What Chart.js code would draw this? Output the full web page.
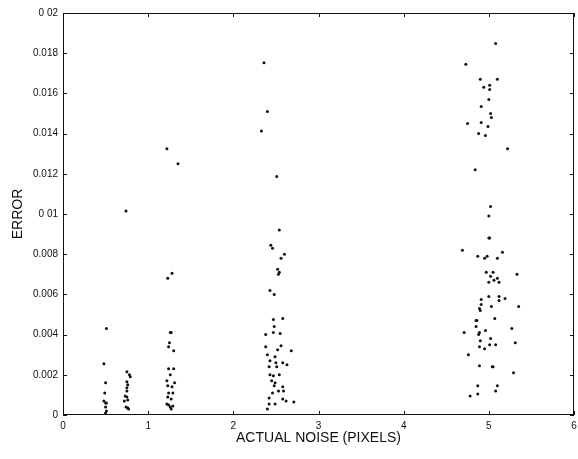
<!DOCTYPE html>
<html>
<head>
<meta charset="utf-8">
<script src="https://cdn.jsdelivr.net/npm/chart.js@4/dist/chart.umd.min.js"></script>
<style>
  body { margin: 0; background: #fff; }
</style>
</head>
<body>
<canvas id="noiseChart" width="578" height="459"></canvas>
<script>
// data, one group per noise level
const noise05X = [0.51, 0.48, 0.50, 0.49, 0.48, 0.50, 0.51, 0.50, 0.51, 0.50];
const noise05Y = [0.0043, 0.00255, 0.0016, 0.0011, 0.0007, 0.0006, 0.0006, 0.0004, 0.0002, 0.0001];

const noise075X = [0.74, 0.75, 0.78, 0.79, 0.75, 0.76, 0.75, 0.75, 0.73, 0.75, 0.76, 0.72, 0.74, 0.76, 0.77];
const noise075Y = [0.01015, 0.00215, 0.002, 0.0019, 0.00165, 0.0015, 0.00135, 0.0012, 0.00095, 0.0009, 0.00075, 0.0007, 0.0004, 0.00035, 0.0003];

const noise125X = [1.22, 1.35, 1.23, 1.28, 1.26, 1.27, 1.25, 1.24, 1.30, 1.24, 1.30, 1.26, 1.22, 1.31, 1.23,
                   1.28, 1.24, 1.29, 1.23, 1.27, 1.22, 1.24, 1.26, 1.29, 1.27];
const noise125Y = [0.01325, 0.0125, 0.0068, 0.00705, 0.0041, 0.0041, 0.0036, 0.0034, 0.0032, 0.0023, 0.0023, 0.002, 0.0017, 0.0016, 0.00145,
                   0.0014, 0.0011, 0.0011, 0.0009, 0.0008, 0.00055, 0.0005, 0.0004, 0.00045, 0.0003];

const noise25X = [2.36, 2.40, 2.33, 2.51, 2.54, 2.44, 2.46, 2.60, 2.56, 2.52, 2.54, 2.53, 2.43, 2.48, 2.47,
                  2.58, 2.48, 2.38, 2.47, 2.55, 2.38, 2.56, 2.52, 2.68, 2.40, 2.49, 2.43, 2.50, 2.58, 2.63,
                  2.42, 2.51, 2.43, 2.47, 2.54, 2.45, 2.49, 2.48, 2.58, 2.59, 2.53, 2.46, 2.42, 2.58, 2.62,
                  2.71, 2.49, 2.42, 2.40];
const noise25Y = [0.01753, 0.0151, 0.01413, 0.01187, 0.0092, 0.00845, 0.0083, 0.008, 0.0078, 0.00725, 0.0071, 0.007, 0.0062, 0.006, 0.00475,
                  0.0048, 0.0044, 0.004, 0.0041, 0.00405, 0.0034, 0.00345, 0.00325, 0.0032, 0.003, 0.0029, 0.0027, 0.0026, 0.0026, 0.0025,
                  0.0024, 0.0024, 0.002, 0.00195, 0.002, 0.0017, 0.0016, 0.00145, 0.0014, 0.0012, 0.0012, 0.0011, 0.00085, 0.0008, 0.0007,
                  0.00065, 0.00055, 0.00055, 0.0003];

const noise5X = [5.08, 4.73, 4.90, 5.10, 4.94, 5.01, 5.01, 5.00, 4.91, 5.02, 5.03, 4.91, 4.75, 4.99, 4.88,
                 4.96, 5.22, 4.84, 5.02, 5.00, 5.00, 5.01, 4.69, 5.16, 4.87, 4.98, 4.95, 5.10, 4.97, 5.05,
                 5.33, 5.02, 5.06, 5.10, 5.00, 5.12, 4.91, 5.00, 5.12, 5.19, 5.12, 4.91, 4.89, 5.03, 5.35,
                 4.90, 5.07, 4.86, 4.85, 4.85, 5.27, 4.71, 4.96, 4.89, 4.88, 5.02, 4.90, 5.31, 5.08, 5.01,
                 4.89, 4.95, 4.76, 4.89, 5.04, 5.05, 5.29, 4.87, 5.10, 5.08, 4.87, 4.78];
const noise5Y = [0.01848, 0.01745, 0.0167, 0.0167, 0.0163, 0.0164, 0.0162, 0.0157, 0.01535, 0.015, 0.0148, 0.01455, 0.0145, 0.01435, 0.014,
                 0.0139, 0.01325, 0.0122, 0.01037, 0.0099, 0.0088, 0.0088, 0.0082, 0.0081, 0.0079, 0.0079, 0.0078, 0.0078, 0.0071, 0.0071,
                 0.007, 0.0069, 0.0067, 0.0068, 0.0066, 0.0066, 0.00575, 0.0059, 0.0059, 0.0058, 0.0057, 0.0055, 0.0053, 0.0054, 0.0054,
                 0.0052, 0.0048, 0.0047, 0.0047, 0.0044, 0.0043, 0.0041, 0.0042, 0.0041, 0.004, 0.0038, 0.0037, 0.0036, 0.0035, 0.0035,
                 0.0034, 0.0033, 0.003, 0.00245, 0.0024, 0.0024, 0.0021, 0.00145, 0.00145, 0.0012, 0.00105, 0.00095];

const xTickLabels = ['0', '1', '2', '3', '4', '5', '6'];
const yTickLabels = ['0', '0.002', '0.004', '0.006', '0.008', '0 01', '0.012', '0.014', '0.016', '0.018', '0 02'];

const groupsX = [noise05X, noise075X, noise125X, noise25X, noise5X];
const groupsY = [noise05Y, noise075Y, noise125Y, noise25Y, noise5Y];

const points = [];
groupsX.forEach((xs, g) => {
  xs.forEach((x, i) => points.push({ x: x, y: groupsY[g][i] }));
});

// box round the plot with ticks pointing inward, matlab style
const boxPlugin = {
  id: 'box',
  afterDraw(chart) {
    const ctx = chart.ctx;
    const a = chart.chartArea;
    const xs = chart.scales.x, ys = chart.scales.y;
    ctx.save();
    ctx.strokeStyle = '#111';
    ctx.lineWidth = 1;
    ctx.strokeRect(a.left + 0.5, a.top + 0.5, a.right - a.left - 1, a.bottom - a.top - 1);
    ctx.beginPath();
    xs.ticks.forEach(t => {
      const px = Math.round(xs.getPixelForValue(t.value)) + 0.5;
      ctx.moveTo(px, a.bottom); ctx.lineTo(px, a.bottom - 4);
      ctx.moveTo(px, a.top); ctx.lineTo(px, a.top + 4);
    });
    ys.ticks.forEach(t => {
      const py = Math.round(ys.getPixelForValue(t.value)) + 0.5;
      ctx.moveTo(a.left, py); ctx.lineTo(a.left + 4, py);
      ctx.moveTo(a.right, py); ctx.lineTo(a.right - 4, py);
    });
    ctx.stroke();
    ctx.restore();
  }
};

const ctx = document.getElementById('noiseChart').getContext('2d');
const noiseChart = new Chart(ctx, {
  type: 'scatter',
  data: {
    datasets: [{
      label: 'Error',
      data: points,
      pointRadius: 1.5,
      pointBorderWidth: 0,
      backgroundColor: '#111',
      borderColor: '#111'
    }]
  },
  options: {
    responsive: false,
    animation: false,
    layout: { padding: { top: 13, right: 1, left: 0, bottom: 0 } },
    scales: {
      x: {
        type: 'linear',
        min: 0,
        max: 6,
        grid: { display: false, drawTicks: false },
        border: { display: false },
        afterFit: s => { s.height = 44; s.paddingRight = 0; s.paddingLeft = 0; },
        ticks: {
          stepSize: 1,
          padding: 5,
          color: '#111',
          font: { family: 'Arial', size: 10 },
          maxRotation: 0,
          callback: (v, i) => xTickLabels[i]
        },
        title: {
          display: true,
          text: 'ACTUAL NOISE (PIXELS)',
          color: '#111',
          font: { family: 'Arial', size: 14 },
          padding: { top: 0, bottom: 12 }
        }
      },
      y: {
        min: 0,
        max: 0.02,
        grid: { display: false, drawTicks: false },
        border: { display: false },
        afterFit: s => { s.width = 63; },
        ticks: {
          stepSize: 0.002,
          padding: 5,
          color: '#111',
          font: { family: 'Arial', size: 10 },
          callback: (v, i) => yTickLabels[i]
        },
        title: {
          display: true,
          text: 'ERROR',
          color: '#111',
          font: { family: 'Arial', size: 14 },
          padding: { top: 10, bottom: 0 }
        }
      }
    },
    plugins: {
      legend: { display: false },
      tooltip: { enabled: false }
    }
  },
  plugins: [boxPlugin]
});
</script>
</body>
</html>
